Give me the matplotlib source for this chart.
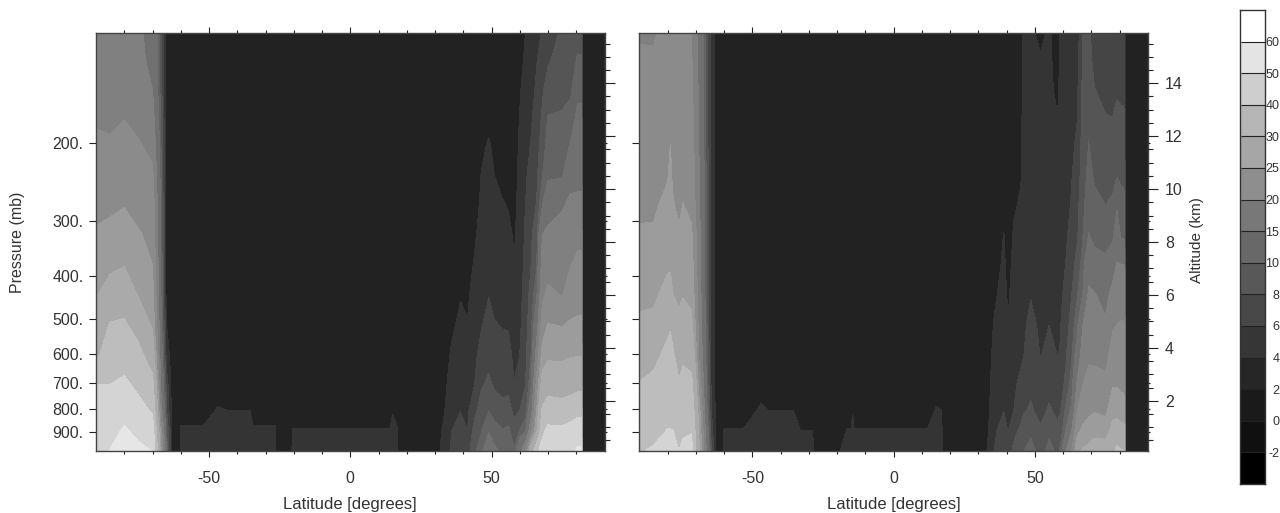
import numpy as np
import matplotlib
matplotlib.use('Agg')
from matplotlib import pyplot as plt
from matplotlib.ticker import FixedFormatter, FixedLocator, NullFormatter, NullLocator

plt.rcParams['font.family'] = ['Liberation Sans', 'DejaVu Sans']
plt.rcParams['text.color'] = '#333333'
plt.rcParams['axes.labelcolor'] = '#333333'

# pressure of each row in the columns below (mb)
pressure = [112, 129, 151, 177, 202, 236, 276, 323, 378, 441, 516, 603, 704, 805, 895, 1000]

levels = [-2, 0, 2, 4, 6, 8, 10, 15, 20, 25, 30, 40, 50, 60]
field_grays = ['#000000', '#101010', '#222222', '#343434', '#454545', '#555555', '#636363', '#707070',
               '#808080', '#8b8b8b', '#9c9c9c', '#aaaaaa', '#bdbdbd', '#d4d4d4', '#e6e6e6']
bar_grays = ['#000000', '#101010', '#1a1a1a', '#262626', '#363636', '#484848', '#585858', '#686868',
             '#787878', '#8e8e8e', '#a6a6a6', '#b6b6b6', '#cecece', '#e4e4e4', '#ffffff']

lat_left = [-90, -85, -80, -75, -70, -67, -65, -63, -60.5, -60, -52, -47, -43.5, -35.5, -34.4, -26.5, -26,
            -21, -20.5, 14, 15, 16.5, 17.7, 30, 33, 36, 39, 41.5, 44, 46.5, 49, 51, 54, 56, 58, 60,
            62, 64, 66, 68, 70, 75, 78, 80.5, 81.7, 82.4, 90]

# one line per latitude, top of the atmosphere first
vals_left = [
    [15.5, 16, 17, 19.5, 21, 22.5, 24, 25.5, 27.5, 29.5, 33, 38, 50, 53, 55, 57],
    [16, 16.5, 17.5, 19, 20.8, 22.5, 24.2, 26.3, 28.7, 33.4, 40.8, 45.4, 50, 54, 57, 60.5],
    [16, 17, 18.5, 20, 21.4, 23.1, 24.8, 27.2, 29.8, 35.5, 41.3, 46.3, 51.7, 57, 61, 63],
    [15.5, 16, 17, 18.7, 20.5, 22.1, 23.7, 25.4, 27.4, 29.5, 36.4, 42.9, 48, 53, 58, 62],
    [14, 14, 15, 17, 18.5, 21, 22.8, 24, 25, 27, 29, 35, 43, 49, 55, 60],
    [7, 7, 7, 7.5, 8, 8.5, 9, 9, 10, 10, 11, 12, 14, 17, 22, 26],
    [1, 1, 1, 1, 1, 1, 1, 1, 1, 1, 2, 3, 5, 6, 8, 9],
    [1, 1, 1, 1, 1, 1, 1, 1, 1, 1, 1, 1, 1, 1, 1.5, 1.5],
    [1, 1, 1, 1, 1, 1, 1, 1, 1, 1, 1, 1, 1, 1, 1, 1],
    [1, 1, 1, 1, 1, 1, 1, 1, 1, 1, 1, 1, 1, 1.4, 2.2, 2.5],
    [1, 1, 1, 1, 1, 1, 1, 1, 1, 1, 1, 1, 1, 1.4, 2.2, 2.5],
    [1, 1, 1, 1, 1, 1, 1, 1, 1, 1, 1, 1, 1.4, 2.1, 2.5, 2.7],
    [1, 1, 1, 1, 1, 1, 1, 1, 1, 1, 1, 1, 1.3, 2, 2.4, 2.6],
    [1, 1, 1, 1, 1, 1, 1, 1, 1, 1, 1, 1, 1.3, 2, 2.4, 2.6],
    [1, 1, 1, 1, 1, 1, 1, 1, 1, 1, 1, 1, 1, 1.4, 2.2, 2.5],
    [1, 1, 1, 1, 1, 1, 1, 1, 1, 1, 1, 1, 1, 1.4, 2.2, 2.5],
    [1, 1, 1, 1, 1, 1, 1, 1, 1, 1, 1, 1, 1, 1, 1, 1],
    [1, 1, 1, 1, 1, 1, 1, 1, 1, 1, 1, 1, 1, 1, 1, 1],
    [1, 1, 1, 1, 1, 1, 1, 1, 1, 1, 1, 1, 1, 1.3, 2.1, 2.4],
    [1, 1, 1, 1, 1, 1, 1, 1, 1, 1, 1, 1, 1, 1.3, 2.1, 2.4],
    [1, 1, 1, 1, 1, 1, 1, 1, 1, 1, 1, 1, 1.2, 1.9, 2.4, 2.6],
    [1, 1, 1, 1, 1, 1, 1, 1, 1, 1, 1, 1, 1, 1.4, 2.2, 2.5],
    [1, 1, 1, 1, 1, 1, 1, 1, 1, 1, 1, 1, 1, 1, 1, 1],
    [1, 1, 1, 1, 1, 1, 1, 1, 1, 1, 1, 1, 1, 1, 1, 1],
    [1, 1, 1, 1, 1, 1, 1, 1, 1, 1, 1, 1.1, 1.3, 1.7, 2.3, 2.6],
    [1, 1, 1, 1, 1, 1, 1, 1, 1, 1.4, 1.7, 2.3, 3, 3.5, 4, 4.5],
    [1, 1, 1, 1, 1, 1, 1, 1.1, 1.5, 1.9, 2.4, 3, 3.5, 3.95, 4.6, 5.2],
    [1, 1, 1, 1, 1, 1, 1, 1, 1.3, 1.7, 2.1, 2.7, 3.2, 3.6, 4, 5.2],
    [1, 1, 1, 1, 1, 1, 1.2, 1.7, 2.2, 2.7, 3.1, 3.5, 4, 5.4, 6.8, 7.6],
    [1, 1, 1, 1.2, 1.6, 2.1, 2.4, 2.8, 3.2, 3.5, 3.9, 4.8, 5.8, 7, 7.9, 9.5],
    [1, 1, 1.1, 1.6, 2.2, 2.5, 2.9, 3.2, 3.6, 3.95, 4.6, 5.4, 6.4, 7.9, 9.7, 13],
    [1, 1, 1, 1.2, 1.6, 2, 2.4, 2.8, 3.2, 3.6, 4.1, 4.9, 5.7, 7.2, 8.8, 10.6],
    [1, 1, 1, 1, 1.2, 1.6, 2.1, 2.6, 3, 3.5, 3.9, 4.7, 5.5, 6.5, 8.1, 9.5],
    [1, 1, 1, 1, 1.1, 1.4, 1.9, 2.4, 2.9, 3.4, 3.85, 4.6, 5.5, 6.7, 8.4, 9.8],
    [1, 1, 1, 1, 1.1, 1.3, 1.5, 1.8, 2.1, 2.6, 3.1, 3.5, 4.05, 5.4, 6.8, 8.3],
    [1.2, 1.4, 1.8, 2.1, 2.3, 2.5, 2.6, 2.7, 3, 3.3, 3.6, 4, 4.5, 6, 8, 14],
    [2, 2.3, 2.8, 3.1, 3.4, 3.7, 4, 4.3, 4.6, 4.9, 5.2, 5.5, 5.9, 7, 9.5, 20],
    [2.6, 3, 3.4, 3.8, 4.1, 4.7, 5.2, 5.7, 6, 6.7, 7.3, 8, 9.5, 13, 18, 35],
    [3.3, 3.9, 4.3, 4.8, 5.1, 5.6, 6.1, 7.2, 7.8, 9.6, 13, 17, 21.5, 25, 29, 48],
    [4.2, 4.9, 5.7, 6.4, 7, 7.9, 10, 15, 17, 19, 22.5, 27, 33, 41.5, 48, 54],
    [5, 5.7, 7, 8.2, 8.8, 9.5, 12.5, 16.3, 18.4, 21, 25.2, 28.6, 36, 45, 52, 55],
    [6.3, 7, 7.6, 8.2, 8.9, 9.6, 14.5, 17, 19, 19.8, 24.8, 28.5, 35.5, 44, 52, 56],
    [6.8, 7.2, 7.7, 8.8, 10.2, 13.5, 16, 18, 19.9, 22.5, 25.6, 29.4, 36, 46, 53, 57],
    [7.2, 8.2, 9.4, 10.8, 12, 13.6, 16.2, 18.8, 21.2, 23.5, 25.7, 29.6, 37, 48, 54, 62],
    [7.2, 8.2, 9.4, 10.8, 12, 13.6, 16.2, 18.8, 21.2, 23.5, 25.7, 29.6, 37, 48, 54, 62],
    [1, 1, 1, 1, 1, 1, 1, 1, 1, 1, 1, 1, 1, 1, 1, 1],
    [1, 1, 1, 1, 1, 1, 1, 1, 1, 1, 1, 1, 1, 1, 1, 1],
]

lat_right = [-90, -85, -80, -79, -78, -76, -74.5, -71.5, -69, -66.5, -64.5, -62.5, -60.5, -60, -53, -47, -44.5,
             -35.5, -33, -28.6, -28, -19.5, -19, -16.5, -15, -14.5, -14, 12, 15, 17, 17.5, 30, 33, 35.5, 39,
             40.5, 42.5, 45, 46, 48.5, 52, 55, 58, 59, 61, 63, 65, 67, 69, 71, 75, 77.5, 79, 80.5, 81.5, 82.2, 90]

vals_right = [
    [19.5, 20.7, 21.3, 21.9, 22.4, 23, 24.4, 25.4, 27, 28.8, 31, 36, 40.5, 44, 47, 49.5],
    [19.6, 20.4, 21.2, 22, 22.6, 23.5, 24.4, 25.5, 26.9, 28.6, 31.9, 37.9, 42, 45, 47.9, 51],
    [21, 21.7, 22.4, 23.2, 23.9, 24.7, 26, 27.6, 29.1, 32.5, 38.4, 42, 45.4, 48, 50.2, 52],
    [21.5, 22.2, 23, 24, 25.05, 25.8, 26.5, 27.7, 29.2, 32.9, 39.4, 42.3, 45.5, 48, 50.2, 52],
    [20.9, 21.3, 21.8, 22.6, 23.2, 24, 25.3, 26.9, 28.4, 30, 35.5, 41, 44.3, 47.5, 50, 51],
    [20.7, 21, 21.5, 22, 22.6, 23.2, 24, 25.7, 27.2, 28.9, 31.6, 36.3, 40.9, 44.3, 47.3, 50.1],
    [21, 21.5, 22, 22.6, 23.2, 24, 25.1, 26.7, 28, 29.6, 33.7, 38.4, 43, 46.2, 48.9, 52],
    [20, 20.4, 21, 21.6, 22.2, 23, 23.9, 25.7, 27.1, 28.7, 31.3, 36.9, 42.2, 46.2, 49.5, 53],
    [14, 14, 14.5, 15, 15, 16, 16, 17, 17.5, 18, 19, 20, 24, 28, 30, 32],
    [8, 8, 8, 8, 8, 8.5, 8.5, 9, 9, 9, 9.5, 10, 11, 12, 14, 16],
    [3, 3, 3, 3, 3, 3, 3, 3, 3, 3, 3, 3.5, 3.5, 4, 5, 6],
    [1, 1, 1, 1, 1, 1, 1, 1, 1, 1, 1, 1, 1, 1, 1, 1],
    [1, 1, 1, 1, 1, 1, 1, 1, 1, 1, 1, 1, 1, 1, 1, 1],
    [1, 1, 1, 1, 1, 1, 1, 1, 1, 1, 1, 1, 1, 1.3, 2.1, 2.4],
    [1, 1, 1, 1, 1, 1, 1, 1, 1, 1, 1, 1, 1, 1.3, 2.1, 2.4],
    [1, 1, 1, 1, 1, 1, 1, 1, 1, 1, 1, 1, 1.45, 2.2, 2.5, 2.7],
    [1, 1, 1, 1, 1, 1, 1, 1, 1, 1, 1, 1, 1.3, 2, 2.4, 2.6],
    [1, 1, 1, 1, 1, 1, 1, 1, 1, 1, 1, 1, 1.3, 2, 2.4, 2.6],
    [1, 1, 1, 1, 1, 1, 1, 1, 1, 1, 1, 1, 1, 1.3, 2, 2.4],
    [1, 1, 1, 1, 1, 1, 1, 1, 1, 1, 1, 1, 1, 1.3, 2, 2.4],
    [1, 1, 1, 1, 1, 1, 1, 1, 1, 1, 1, 1, 1, 1, 1, 1],
    [1, 1, 1, 1, 1, 1, 1, 1, 1, 1, 1, 1, 1, 1, 1, 1],
    [1, 1, 1, 1, 1, 1, 1, 1, 1, 1, 1, 1, 1, 1, 1.2, 2],
    [1, 1, 1, 1, 1, 1, 1, 1, 1, 1, 1, 1, 1, 1.3, 2.1, 2.4],
    [1, 1, 1, 1, 1, 1, 1, 1, 1, 1, 1, 1, 1, 1.3, 2.1, 2.4],
    [1, 1, 1, 1, 1, 1, 1, 1, 1, 1, 1, 1, 1.2, 1.9, 2.4, 2.6],
    [1, 1, 1, 1, 1, 1, 1, 1, 1, 1, 1, 1, 1, 1.3, 2.1, 2.4],
    [1, 1, 1, 1, 1, 1, 1, 1, 1, 1, 1, 1, 1, 1.3, 2.1, 2.4],
    [1, 1, 1, 1, 1, 1, 1, 1, 1, 1, 1, 1, 1.4, 2.1, 2.5, 2.7],
    [1, 1, 1, 1, 1, 1, 1, 1, 1, 1, 1, 1, 1.3, 2, 2.4, 2.6],
    [1, 1, 1, 1, 1, 1, 1, 1, 1, 1, 1, 1, 1, 1, 1, 1],
    [1, 1, 1, 1, 1, 1, 1, 1, 1, 1, 1, 1, 1, 1, 1, 1],
    [1, 1, 1, 1, 1, 1, 1, 1, 1, 1, 1, 1, 1, 1.2, 1.5, 2],
    [1, 1, 1, 1, 1, 1, 1, 1.1, 1.3, 1.7, 2.1, 2.5, 3, 3.4, 3.7, 4],
    [1, 1, 1, 1, 1, 1.2, 1.6, 2.05, 2.3, 2.6, 3, 3.4, 3.7, 3.95, 4.7, 5.6],
    [1, 1, 1, 1, 1, 1, 1, 1.1, 1.4, 1.7, 2.1, 2.6, 3.1, 3.6, 3.9, 5],
    [1, 1, 1, 1, 1.1, 1.3, 1.8, 2.2, 2.5, 2.8, 3.1, 3.4, 3.7, 4, 5.3, 6.6],
    [1.7, 1.7, 1.8, 1.8, 1.9, 1.9, 2.2, 2.5, 2.7, 3, 3.3, 3.7, 4.4, 5, 6.5, 7.5],
    [2.1, 2.1, 2.2, 2.3, 2.4, 2.6, 2.7, 2.9, 3.1, 3.4, 3.6, 3.95, 4.9, 5.8, 6.9, 8],
    [2.2, 2.3, 2.4, 2.5, 2.7, 2.9, 3, 3.2, 3.5, 3.9, 4.6, 5.1, 5.7, 6.2, 7.5, 9],
    [1.7, 2.1, 2.2, 2.3, 2.4, 2.5, 2.7, 2.9, 3.1, 3.3, 3.6, 3.9, 4.9, 5.5, 6.2, 7],
    [2.2, 2.3, 2.4, 2.5, 2.6, 2.7, 2.9, 3.1, 3.4, 3.7, 4, 4.8, 5.5, 6.2, 7.4, 9],
    [1.3, 1.4, 1.6, 2.1, 2.3, 2.5, 2.7, 2.9, 3.1, 3.4, 3.7, 3.95, 5, 5.6, 6.4, 7.5],
    [2.3, 2.4, 2.5, 2.6, 2.7, 2.8, 2.9, 3.1, 3.3, 3.6, 3.9, 4.1, 5.2, 5.9, 6.6, 8.5],
    [2.5, 2.6, 2.7, 2.8, 2.9, 3.1, 3.4, 3.7, 4.1, 4.6, 5.1, 5.8, 6.5, 8.5, 10.2, 15],
    [2.7, 2.9, 3.1, 3.4, 3.6, 3.9, 4.2, 4.8, 5.4, 6, 6.9, 7.7, 8.9, 10.5, 15, 20],
    [3, 3.3, 3.7, 4, 4.4, 4.9, 5.4, 5.8, 6.6, 7.9, 9.4, 11.9, 15.8, 20, 24, 29],
    [6.1, 6.3, 6.6, 6.8, 7, 7.2, 7.6, 8, 9, 10.2, 15, 17.5, 20, 23, 25.8, 31],
    [6.5, 6.8, 7.2, 7.8, 8.05, 8.5, 9, 10.1, 13.5, 15.7, 17.3, 19.2, 21.7, 24, 27, 32],
    [5, 5.3, 6.1, 6.8, 7.2, 7.8, 8.4, 9.4, 11, 15.4, 17.3, 19.2, 21.5, 24.6, 28.4, 33],
    [4.4, 4.7, 5.2, 6.2, 6.6, 7.4, 8, 9.1, 10.6, 13.2, 15.8, 18.5, 21.2, 23.9, 27.3, 34],
    [4.4, 4.7, 5.1, 6.1, 6.7, 7.5, 8.3, 9.3, 13, 16.8, 19.5, 22, 24.6, 28, 32, 38],
    [4.8, 5.1, 5.7, 6.6, 7.1, 7.9, 9.5, 12.7, 15.3, 18.6, 20, 22.3, 24.6, 28, 33, 43],
    [4.7, 5, 5.6, 6.4, 6.8, 7.7, 8.5, 9.4, 15.2, 17.8, 20.4, 22.3, 24.2, 27, 32, 41],
    [4.7, 5, 5.6, 6.4, 6.8, 7.7, 8.5, 9.4, 15.2, 17.8, 20.4, 22.3, 24.2, 27, 32, 41],
    [1, 1, 1, 1, 1, 1, 1, 1, 1, 1, 1, 1, 1, 1, 1, 1],
    [1, 1, 1, 1, 1, 1, 1, 1, 1, 1, 1, 1, 1, 1, 1, 1],
]

p_ticks = [200, 300, 400, 500, 600, 700, 800, 900]
p_labels = ['200.', '300.', '400.', '500.', '600.', '700.', '800.', '900.']
km_major = [2, 4, 6, 8, 10, 12, 14]
km_minor = np.arange(0.5, 16, 0.5)
lat_major = [-50, 0, 50]
lat_minor = np.arange(-80, 90, 10)
bar_labels = ['-2', '0', '2', '4', '6', '8', '10', '15', '20', '25', '30', '40', '50', '60']

W, H = 1280, 513
INK = '#333333'
TICK = '#222222'


def panel(box, lats, vals):
    ax = fig.add_axes([box[0] / W, 1 - box[3] / H, (box[2] - box[0]) / W, (box[3] - box[1]) / H])
    z = np.array(vals).T
    ax.contourf(lats, pressure, z, levels=levels, colors=field_grays, extend='both', antialiased=False)
    ax.set_yscale('log')
    ax.set_xlim(-90, 90)
    ax.set_ylim(996, 112.4)
    ax.xaxis.set_major_locator(FixedLocator(lat_major))
    ax.xaxis.set_minor_locator(FixedLocator(lat_minor))
    ax.xaxis.set_major_formatter(FixedFormatter(['-50', '0', '50']))
    ax.tick_params(axis='x', which='major', top=True, length=4.3, width=0.8, color=TICK,
                   labelsize=11.5, labelcolor=INK, pad=10)
    ax.tick_params(axis='x', which='minor', top=True, length=2.2, width=0.8, color=TICK)
    ax.yaxis.set_major_locator(FixedLocator(p_ticks))
    ax.yaxis.set_minor_locator(NullLocator())
    ax.yaxis.set_major_formatter(NullFormatter())
    ax.tick_params(axis='y', which='major', length=5, width=0.8, color=TICK,
                   labelsize=11.5, labelcolor=INK, pad=4)
    ax.set_xlabel('Latitude [degrees]', fontsize=12, labelpad=8)
    for s in ax.spines.values():
        s.set_color('#444444')
        s.set_linewidth(1)

    # tiny pressure ticks on the right edge
    tw = ax.twinx()
    tw.set_yscale('log')
    tw.set_ylim(996, 112.4)
    tw.yaxis.set_major_locator(FixedLocator(p_ticks))
    tw.yaxis.set_minor_locator(NullLocator())
    tw.yaxis.set_major_formatter(NullFormatter())
    tw.tick_params(axis='y', length=1.5, width=0.8, color=TICK)
    tw.set_frame_on(False)

    # altitude scale
    km = ax.twinx()
    km.set_ylim(0.1, 15.9)
    km.yaxis.set_major_locator(FixedLocator(km_major))
    km.yaxis.set_minor_locator(FixedLocator(km_minor))
    km.yaxis.set_major_formatter(NullFormatter())
    km.tick_params(axis='y', which='major', length=7.2, width=0.8, color=TICK,
                   labelsize=11.5, labelcolor=INK, pad=5)
    km.tick_params(axis='y', which='minor', length=3.6, width=0.8, color=TICK)
    km.set_frame_on(False)
    return ax, km


fig = plt.figure(figsize=(12.8, 5.13), dpi=100)

ax1, km1 = panel((96, 33, 604.5, 451), lat_left, vals_left)
ax2, km2 = panel((639.3, 33, 1148, 451), lat_right, vals_right)

ax1.yaxis.set_major_formatter(FixedFormatter(p_labels))
ax1.text(18 / W, 1 - 242 / H, 'Pressure (mb)', transform=fig.transFigure, rotation=90,
         ha='center', va='center', fontsize=11.5)

km2.yaxis.set_major_formatter(FixedFormatter([str(k) for k in km_major]))
km2.text(1197 / W, 1 - 240 / H, 'Altitude (km)', transform=fig.transFigure, rotation=90,
         ha='center', va='center', fontsize=11)

# colour bar, one equal box per interval
cax = fig.add_axes([1240 / W, 1 - 484 / H, 24.5 / W, 474 / H])
for i, g in enumerate(bar_grays):
    cax.barh(i, 1, height=1, left=0, color=g, edgecolor='none')
cax.set_xlim(0, 1)
cax.set_ylim(-0.5, len(bar_grays) - 0.5)
cax.set_xticks([])
cax.yaxis.tick_right()
cax.set_yticks(np.arange(len(bar_labels)) + 0.5)
cax.set_yticklabels(bar_labels, fontsize=9, color=INK, ha='right')
cax.tick_params(axis='y', direction='in', length=17.6, width=0.8, color=TICK, pad=10.6)
for s in cax.spines.values():
    s.set_color('#333333')
    s.set_linewidth(1)

plt.savefig('out.png', dpi=100)
